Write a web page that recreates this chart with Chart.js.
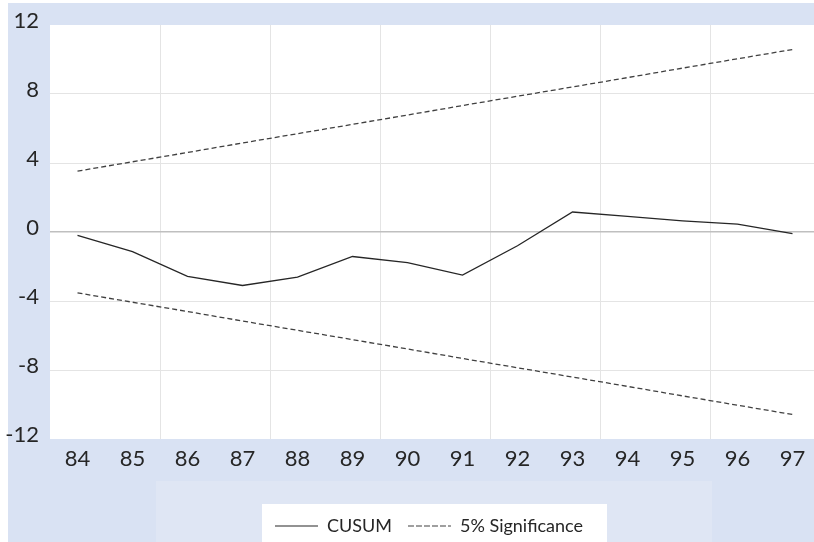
<!DOCTYPE html>
<html>
<head>
<meta charset="utf-8">
<script src="https://cdn.jsdelivr.net/npm/chart.js@4.4.1/dist/chart.umd.min.js"></script>
<style>
  html, body { margin: 0; padding: 0; overflow: hidden; background: #ffffff; }
  #wrap { width: 814px; height: 542px; overflow: hidden; }
</style>
</head>
<body>
<div id="wrap"><canvas id="cusumChart" width="820" height="542"></canvas></div>
<script>
// Data
const years = ['84', '85', '86', '87', '88', '89', '90', '91', '92', '93', '94', '95', '96', '97'];
const cusum = [-0.2, -1.14, -2.57, -3.1, -2.61, -1.42, -1.77, -2.5, -0.8, 1.16, 0.9, 0.65, 0.46, -0.1];
const upperBound = [3.53, 4.07, 4.61, 5.16, 5.7, 6.24, 6.78, 7.33, 7.87, 8.41, 8.95, 9.5, 10.04, 10.58];
const lowerBound = [-3.53, -4.07, -4.61, -5.16, -5.7, -6.24, -6.78, -7.33, -7.87, -8.41, -8.95, -9.5, -10.04, -10.58];
const yTicks = [-12, -8, -4, 0, 4, 8, 12];

const textColor = '#262626';
const fontFamily = 'Lato, "DejaVu Sans", sans-serif';

// Page / plot backgrounds like the original sheet
const backgroundPlugin = {
    id: 'backgrounds',
    beforeDraw(chart) {
        const ctx = chart.ctx;
        const area = chart.chartArea;
        ctx.save();
        ctx.fillStyle = '#ffffff';
        ctx.fillRect(0, 0, chart.width, chart.height);
        ctx.fillStyle = '#d9e2f3';
        ctx.fillRect(8, 3, chart.width, chart.height);
        ctx.fillStyle = '#dfe6f4';
        ctx.fillRect(156, 481, 556, 61);
        ctx.fillStyle = '#ffffff';
        ctx.fillRect(262, 504, 345, 38);
        ctx.fillRect(area.left, area.top, area.right - area.left, area.bottom - area.top);
        ctx.restore();
    }
};

// Nudge the legend to where the original sits
const legendShift = {
    id: 'legendShift',
    afterLayout(chart) {
        chart.legend.left += 19;
        chart.legend.right += 19;
        chart.legend.top += 3;
        chart.legend.bottom += 3;
    }
};

const ctx = document.getElementById('cusumChart').getContext('2d');
new Chart(ctx, {
    type: 'line',
    data: {
        labels: years,
        datasets: [{
            label: 'CUSUM',
            data: cusum,
            borderColor: '#262626',
            borderWidth: 1.3,
            pointRadius: 0,
            tension: 0
        }, {
            label: '5% Significance',
            data: upperBound,
            borderColor: '#404040',
            borderWidth: 1.3,
            borderDash: [5, 3],
            pointRadius: 0,
            tension: 0
        }, {
            label: 'lower',
            data: lowerBound,
            borderColor: '#404040',
            borderWidth: 1.3,
            borderDash: [5, 3],
            pointRadius: 0,
            tension: 0
        }]
    },
    options: {
        responsive: false,
        animation: false,
        layout: {
            padding: { top: 25, left: 0, right: 0, bottom: 0 }
        },
        scales: {
            x: {
                offset: true,
                border: { display: false },
                grid: {
                    offset: true,
                    drawTicks: false,
                    color: function(c) {
                        return (c.index % 2 === 0 && c.index > 0 && c.index < years.length) ? '#e4e4e4' : 'rgba(0,0,0,0)';
                    }
                },
                ticks: {
                    color: textColor,
                    font: { family: fontFamily, size: 22 },
                    padding: 7,
                    maxRotation: 0,
                    autoSkip: false
                },
                afterFit: function(scale) {
                    scale.height = 59;
                }
            },
            y: {
                min: -12,
                max: 12,
                border: { display: false },
                afterBuildTicks: function(scale) {
                    scale.ticks = yTicks.map(v => ({ value: v }));
                },
                grid: {
                    drawTicks: false,
                    color: function(c) {
                        if (c.tick && c.tick.value === 0) return '#bfbfbf';
                        if (c.tick && (c.tick.value === 12 || c.tick.value === -12)) return 'rgba(0,0,0,0)';
                        return '#e4e4e4';
                    },
                    lineWidth: function(c) {
                        return (c.tick && c.tick.value === 0) ? 1.5 : 1;
                    }
                },
                ticks: {
                    color: textColor,
                    font: { family: fontFamily, size: 22 },
                    padding: 11,
                    labelOffset: -4
                },
                afterFit: function(scale) {
                    scale.width = 50;
                }
            }
        },
        plugins: {
            legend: {
                position: 'bottom',
                labels: {
                    color: textColor,
                    font: { family: fontFamily, size: 18 },
                    boxWidth: 43,
                    boxHeight: 0,
                    padding: 16,
                    generateLabels: function(chart) {
                        const items = Chart.defaults.plugins.legend.labels.generateLabels(chart);
                        return items
                            .filter(item => item.text !== 'lower')
                            .map(item => Object.assign(item, { fillStyle: 'rgba(0,0,0,0)', lineWidth: 1.2 }));
                    }
                }
            },
            tooltip: { enabled: false }
        }
    },
    plugins: [backgroundPlugin, legendShift]
});
</script>
</body>
</html>
